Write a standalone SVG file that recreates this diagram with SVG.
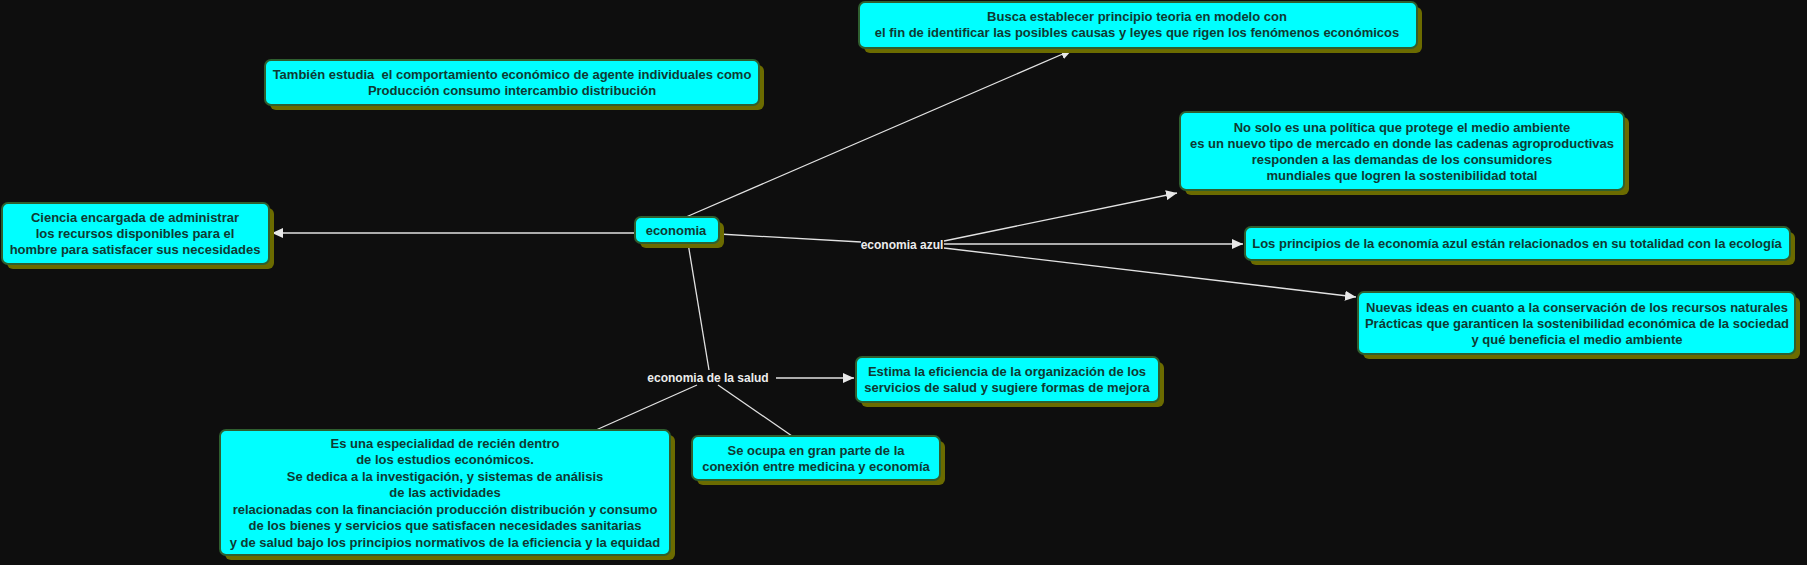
<svg xmlns="http://www.w3.org/2000/svg" width="1807" height="565" viewBox="0 0 1807 565">
<defs>
<style>
.sh{fill:#6b6b00;}
.bx{fill:#00ffff;stroke:#2f5f2f;stroke-width:2;}
.t{font-family:"Liberation Sans",Arial,sans-serif;font-weight:bold;font-size:13px;fill:#0f3a33;text-anchor:middle;}
.lb{font-family:"Liberation Sans",Arial,sans-serif;font-weight:bold;font-size:12px;fill:#ececec;text-anchor:middle;}
.c{stroke:#e2e2e2;stroke-width:1.3;fill:none;}
.a{marker-end:url(#ah);}
</style>
<marker id="ah" markerUnits="userSpaceOnUse" markerWidth="12" markerHeight="10" refX="11" refY="5" orient="auto">
<path d="M0,0 L11,5 L0,10 Z" fill="#e8e8e8"/>
</marker>
</defs>
<rect width="1807" height="565" fill="#0e0e0e"/>
<g id="connectors">
<line class="c a" x1="686" y1="217" x2="1072" y2="50"/>
<line class="c a" x1="635" y1="233" x2="272" y2="233"/>
<line class="c" x1="719" y1="234" x2="861" y2="242"/>
<line class="c a" x1="944" y1="241" x2="1177" y2="193"/>
<line class="c a" x1="944" y1="244" x2="1243" y2="244"/>
<line class="c a" x1="944" y1="248" x2="1356" y2="297"/>
<line class="c" x1="688" y1="243" x2="709" y2="370"/>
<line class="c a" x1="776" y1="378" x2="854" y2="378"/>
<line class="c" x1="697" y1="385" x2="596" y2="430"/>
<line class="c" x1="718" y1="385" x2="792" y2="436"/>
</g>
<g id="label-azul"><text class="lb" x="902" y="249">economia azul</text></g>
<g id="label-salud"><text class="lb" x="708" y="382">economia de la salud</text></g>
<g id="n-economia">
<rect class="sh" x="640" y="222" width="84" height="26" rx="6"/>
<rect class="bx" x="635" y="217" width="84" height="26" rx="6"/>
<text class="t" x="676" y="235">economia</text>
</g>
<g id="n-busca">
<rect class="sh" x="864" y="7" width="558" height="46" rx="6"/>
<rect class="bx" x="859" y="2" width="558" height="46" rx="6"/>
<text class="t" x="1137" y="21">Busca establecer principio teoria en modelo con</text>
<text class="t" x="1137" y="37">el fin de identificar las posibles causas y leyes que rigen los fenómenos económicos</text>
</g>
<g id="n-tambien">
<rect class="sh" x="270" y="65" width="494" height="45" rx="6"/>
<rect class="bx" x="265" y="60" width="494" height="45" rx="6"/>
<text class="t" x="512" y="79" xml:space="preserve" style="white-space:pre">También estudia  el comportamiento económico de agente individuales como</text>
<text class="t" x="512" y="95">Producción consumo intercambio distribución</text>
</g>
<g id="n-ciencia">
<rect class="sh" x="7" y="208" width="267" height="61" rx="6"/>
<rect class="bx" x="2" y="203" width="267" height="61" rx="6"/>
<text class="t" x="135" y="222">Ciencia encargada de administrar</text>
<text class="t" x="135" y="238">los recursos disponibles para el</text>
<text class="t" x="135" y="254">hombre para satisfacer sus necesidades</text>
</g>
<g id="n-nosolo">
<rect class="sh" x="1185" y="117" width="444" height="78" rx="6"/>
<rect class="bx" x="1180" y="112" width="444" height="78" rx="6"/>
<text class="t" x="1402" y="131.5">No solo es una política que protege el medio ambiente</text>
<text class="t" x="1402" y="147.5">es un nuevo tipo de mercado en donde las cadenas agroproductivas</text>
<text class="t" x="1402" y="163.5">responden a las demandas de los consumidores</text>
<text class="t" x="1402" y="179.5">mundiales que logren la sostenibilidad total</text>
</g>
<g id="n-principios">
<rect class="sh" x="1250" y="232" width="545" height="33" rx="6"/>
<rect class="bx" x="1245" y="227" width="545" height="33" rx="6"/>
<text class="t" x="1517" y="248">Los principios de la economía azul están relacionados en su totalidad con la ecología</text>
</g>
<g id="n-nuevas">
<rect class="sh" x="1363" y="297" width="437" height="62" rx="6"/>
<rect class="bx" x="1358" y="292" width="437" height="62" rx="6"/>
<text class="t" x="1577" y="311.5">Nuevas ideas en cuanto a la conservación de los recursos naturales</text>
<text class="t" x="1577" y="327.5">Prácticas que garanticen la sostenibilidad económica de la sociedad</text>
<text class="t" x="1577" y="343.5">y qué beneficia el medio ambiente</text>
</g>
<g id="n-estima">
<rect class="sh" x="861" y="362" width="303" height="45" rx="6"/>
<rect class="bx" x="856" y="357" width="303" height="45" rx="6"/>
<text class="t" x="1007" y="376">Estima la eficiencia de la organización de los</text>
<text class="t" x="1007" y="392">servicios de salud y sugiere formas de mejora</text>
</g>
<g id="n-seocupa">
<rect class="sh" x="697" y="441" width="248" height="44" rx="6"/>
<rect class="bx" x="692" y="436" width="248" height="44" rx="6"/>
<text class="t" x="816" y="454.5">Se ocupa en gran parte de la</text>
<text class="t" x="816" y="470.5">conexión entre medicina y economía</text>
</g>
<g id="n-esuna">
<rect class="sh" x="225" y="435" width="450" height="125" rx="6"/>
<rect class="bx" x="220" y="430" width="450" height="125" rx="6"/>
<text class="t" x="445" y="447.5">Es una especialidad de recién dentro</text>
<text class="t" x="445" y="464">de los estudios económicos.</text>
<text class="t" x="445" y="480.5">Se dedica a la investigación, y sistemas de análisis</text>
<text class="t" x="445" y="497">de las actividades</text>
<text class="t" x="445" y="513.5">relacionadas con la financiación producción distribución y consumo</text>
<text class="t" x="445" y="530">de los bienes y servicios que satisfacen necesidades sanitarias</text>
<text class="t" x="445" y="546.5">y de salud bajo los principios normativos de la eficiencia y la equidad</text>
</g>
</svg>
